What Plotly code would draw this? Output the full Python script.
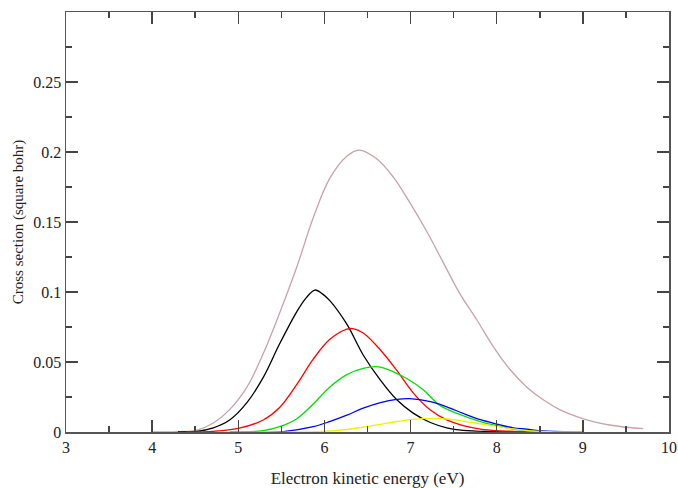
import plotly.graph_objects as go

# Data
pink_E = [4.0, 4.3, 4.52, 4.71, 4.9, 5.1, 5.29, 5.48, 5.68, 5.87, 6.06, 6.26, 6.4, 6.61, 6.8, 6.99,
          7.19, 7.38, 7.57, 7.77, 7.96, 8.15, 8.35, 8.54, 8.73, 8.93, 9.12, 9.31, 9.51, 9.7]
pink_v = [0, 0.0003, 0.0014, 0.0064, 0.016, 0.032, 0.056, 0.085, 0.118, 0.153, 0.181, 0.197, 0.2014,
          0.195, 0.182, 0.164, 0.143, 0.121, 0.099, 0.080, 0.061, 0.045, 0.032, 0.023, 0.016, 0.011,
          0.0074, 0.005, 0.0034, 0.0024]

black_E = [4.3, 4.52, 4.71, 4.9, 5.1, 5.29, 5.48, 5.68, 5.79, 5.89, 5.98, 6.06, 6.26, 6.45, 6.65,
           6.84, 7.03, 7.23, 7.42, 7.61, 7.96, 8.3]
black_v = [0, 0.0005, 0.003, 0.0086, 0.021, 0.039, 0.063, 0.086, 0.096, 0.1014, 0.0985, 0.094, 0.077,
           0.055, 0.037, 0.023, 0.0135, 0.0068, 0.003, 0.0012, 0.0003, 0]

red_E = [4.4, 4.71, 5.0, 5.29, 5.48, 5.68, 5.87, 6.06, 6.26, 6.33, 6.45, 6.65, 6.84, 7.03, 7.23,
         7.42, 7.61, 7.81, 8.0, 8.3, 8.6]
red_v = [0, 0.0005, 0.0026, 0.0086, 0.0175, 0.034, 0.052, 0.066, 0.0735, 0.0738, 0.0707, 0.0586,
         0.044, 0.028, 0.0157, 0.0086, 0.0045, 0.0021, 0.001, 0.0003, 0]

green_E = [4.9, 5.29, 5.48, 5.68, 5.87, 6.06, 6.26, 6.45, 6.63, 6.80, 6.96, 7.15, 7.34, 7.54, 7.81,
           8.0, 8.19, 8.5, 8.8]
green_v = [0, 0.001, 0.0038, 0.0095, 0.020, 0.032, 0.041, 0.0455, 0.0465, 0.043, 0.038, 0.030,
           0.019, 0.0133, 0.0074, 0.0045, 0.0021, 0.0006, 0]

blue_E = [5.0, 5.52, 5.87, 6.06, 6.26, 6.45, 6.65, 6.84, 6.99, 7.23, 7.42, 7.61, 7.81, 8.0, 8.19,
          8.35, 8.54, 9.0]
blue_v = [0, 0.0003, 0.0038, 0.0074, 0.012, 0.017, 0.021, 0.0233, 0.0238, 0.0217, 0.018, 0.0133,
          0.0088, 0.0057, 0.003, 0.002, 0.0007, 0]

yellow_E = [5.0, 5.91, 6.26, 6.45, 6.65, 6.84, 7.03, 7.23, 7.42, 7.61, 7.81, 8.0, 8.19, 8.35, 8.6, 9.0]
yellow_v = [0, 0.0002, 0.0018, 0.0035, 0.0055, 0.0075, 0.009, 0.0097, 0.0093, 0.0078, 0.0058,
            0.004, 0.0022, 0.001, 0.0003, 0]

x_ticks = [3, 4, 5, 6, 7, 8, 9, 10]
x_ticklabels = ["3", "4", "5", "6", "7", "8", "9", "10"]
y_ticks = [0, 0.05, 0.1, 0.15, 0.2, 0.25]
y_ticklabels = ["0", "0.05", "0.1", "0.15", "0.2", "0.25"]

series = [
    (pink_E, pink_v, "#c8a2a8"),
    (black_E, black_v, "#000000"),
    (red_E, red_v, "#ff0000"),
    (green_E, green_v, "#00e000"),
    (blue_E, blue_v, "#0000ff"),
    (yellow_E, yellow_v, "#f0f000"),
]

fig = go.Figure()
for E, v, c in series:
    fig.add_trace(go.Scatter(x=E, y=v, mode="lines",
                             line=dict(color=c, width=1.3, shape="spline", smoothing=1.0),
                             showlegend=False, hoverinfo="skip"))

font_family = "Liberation Serif, Times New Roman, serif"
axis_common = dict(
    showline=True, linecolor="#555555", linewidth=1.5, mirror="ticks",
    ticks="inside", ticklen=12, tickwidth=1.5, tickcolor="#444444",
    showgrid=False, zeroline=False, automargin=False,
    tickfont=dict(family=font_family, size=16, color="#222222"),
)

fig.update_layout(
    width=678, height=488,
    margin=dict(l=66, r=9, t=12, b=56),
    paper_bgcolor="white", plot_bgcolor="white",
    font=dict(family=font_family, color="#222222"),
    xaxis=dict(range=[3, 10], tickvals=x_ticks, ticktext=x_ticklabels,
               minor=dict(dtick=0.5, ticks="inside", ticklen=6, tickwidth=1.5, tickcolor="#444444"),
               title=dict(text="Electron kinetic energy (eV)",
                          font=dict(family=font_family, size=17, color="#222222"), standoff=18),
               **axis_common),
    yaxis=dict(range=[0, 0.3], tickvals=y_ticks, ticktext=y_ticklabels,
               minor=dict(dtick=0.025, ticks="inside", ticklen=6, tickwidth=1.5, tickcolor="#444444"),
               title=dict(text="Cross section (square bohr)",
                          font=dict(family=font_family, size=15, color="#222222"), standoff=6),
               **axis_common),
)

fig.write_html("out.html",
               config={"displayModeBar": False, "staticPlot": True},
               post_script="document.body.style.margin='0';document.body.style.overflow='hidden';")
